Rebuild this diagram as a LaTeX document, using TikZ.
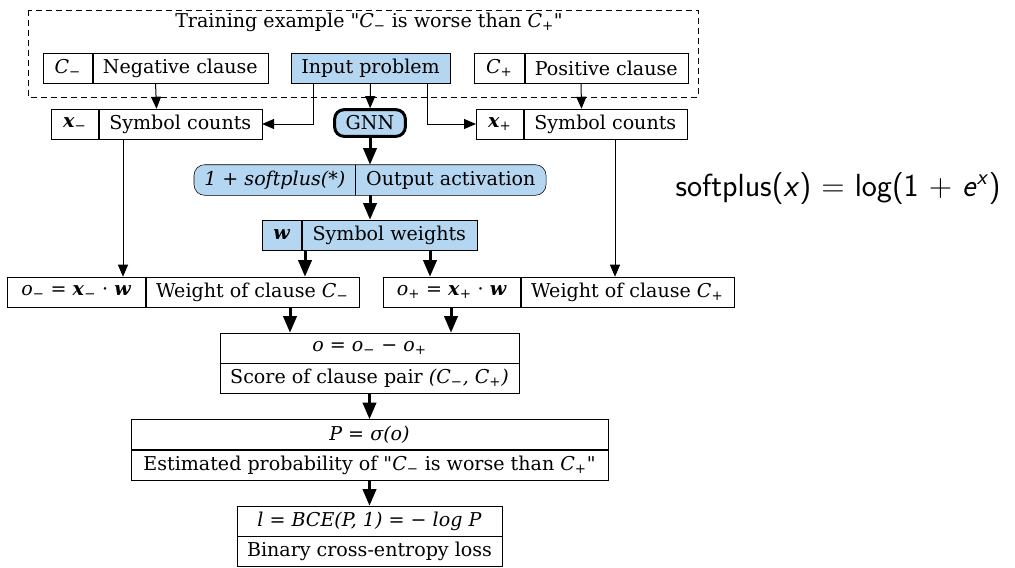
\documentclass[tikz,border=0pt]{standalone}
\usepackage{fontspec}
\setmainfont{DejaVu Serif}[Ligatures=TeXOff]
\usetikzlibrary{positioning,calc,arrows.meta,backgrounds}
\definecolor{gvblue}{HTML}{B4D6F1}
\newcommand{\Cneg}{\textit{C}\textsubscript{−}}
\newcommand{\Cpos}{\textit{C}\textsubscript{+}}
\newcommand{\bx}{\textbf{\textit{x}}}
\newcommand{\bw}{\textbf{\textit{w}}}

\begin{document}
\begin{tikzpicture}[x=0.75pt, y=-0.75pt, font=\fontsize{14.3}{16}\selectfont,
  cell/.style={draw, inner sep=0pt, minimum height=22.5pt, minimum width=#1*0.75pt},
  half/.style={inner sep=0pt, minimum height=22.5pt, minimum width=#1*0.75pt},
  gnnbox/.style={draw, line width=2.25pt, rounded corners=7pt, fill=gvblue, inner sep=0pt,
    minimum width=53pt, minimum height=20pt},
  thin/.style={-{Triangle[length=9pt,width=7.5pt]}, line width=0.75pt},
  bar/.style={-{Triangle[length=12.5pt,width=10pt]}, line width=2.25pt}]
\useasboundingbox (0,0) rectangle (1015,568);
% training example cluster
\draw[dash pattern=on 4.5pt off 3pt] (28,10) rectangle (698,97);
\node (title) at (369,22) {Training example "\Cneg{} is worse than \Cpos"};
\node[cell=49, anchor=west] (negL) at (43,68) {\Cneg};
\node[cell=175, right=0pt of negL] (neg) {Negative clause};
\node[cell=159, fill=gvblue] (inp) at (370.5,68) {Input problem};
\node[cell=50, anchor=west] (posL) at (474,68) {\Cpos};
\node[cell=163, right=0pt of posL] (pos) {Positive clause};
% symbol counts and GNN
\node[cell=47, anchor=west] (xmL) at (51,124) {\bx\textsubscript{−}};
\node[cell=163, right=0pt of xmL] (xm) {Symbol counts};
\node[gnnbox] (gnn) at (370,123) {GNN};
\node[cell=47, anchor=west] (xpL) at (476,124) {\bx\textsubscript{+}};
\node[cell=163, right=0pt of xpL] (xp) {Symbol counts};
\node[half=161, anchor=west] (actL) at (194,180) {\textit{1 + softplus(*)}};
\node[half=190, right=0pt of actL] (act) {Output activation};
\begin{scope}[on background layer]
\draw[fill=gvblue, rounded corners=8pt] (actL.north west) rectangle (act.south east);
\end{scope}
\draw (act.north west) -- (act.south west);
\node[cell=39, fill=gvblue, anchor=west] (wtsL) at (262,235) {\bw};
\node[cell=175, fill=gvblue, right=0pt of wtsL] (wts) {Symbol weights};
% clause weights
\node[cell=138, anchor=west] (omL) at (7,292) {\textit{o}\textsubscript{−} = \bx\textsubscript{−} · \bw};
\node[cell=213, right=0pt of omL] (om) {Weight of clause \Cneg};
\node[cell=137, anchor=west] (opL) at (383,292) {\textit{o}\textsubscript{+} = \bx\textsubscript{+} · \bw};
\node[cell=213, right=0pt of opL] (op) {Weight of clause \Cpos};
% score, probability, loss
\node[cell=299] (scoreT) at (369.5,348) {\textit{o = o\textsubscript{−} − o\textsubscript{+}}};
\node[cell=299, below=0pt of scoreT] (score) {Score of clause pair \textit{(\Cneg, \Cpos)}};
\node[cell=477] (probT) at (369.5,434.5) {\textit{P = σ(o)}};
\node[cell=477, below=0pt of probT] (prob) {Estimated probability of "\Cneg{} is worse than \Cpos"};
\node[cell=265] (lossT) at (369.5,521) {\textit{l = BCE(P, 1) = − log P}};
\node[cell=265, below=0pt of lossT] (loss) {Binary cross-entropy loss};
\node (sp) at (838,189) {\sffamily\fontsize{24}{28}\selectfont softplus(\textit{x}) = log(1 + \textit{e}\textsuperscript{\textit{x}})};
% connectors
\draw[thin] ($(negL.south west)!.5!(neg.south east)$) -- ($(xmL.north west)!.5!(xm.north east)$);
\draw[thin] ($(inp.south)+(-57.5,0)$) |- (xm.east);
\draw[thin] (inp) -- (gnn);
\draw[thin] ($(inp.south)+(56.5,0)$) |- (xpL.west);
\draw[thin] ($(posL.south west)!.5!(pos.south east)$) -- ($(xpL.north west)!.5!(xp.north east)$);
\draw[bar] (gnn) -- (gnn |- act.north);
\draw[bar] (gnn |- act.south) -- (gnn |- wts.north);
\draw[bar] ($(wtsL.south west)+(43,0)$) -- ($(wtsL.south west |- om.north)+(43,0)$);
\draw[bar] ($(wtsL.south west)+(168,0)$) -- ($(wtsL.south west |- op.north)+(168,0)$);
\draw[thin] ($(xmL.south west)+(72,0)$) -- ($(xmL.south west |- om.north)+(72,0)$);
\draw[thin] ($(xpL.south west)+(139,0)$) -- ($(xpL.south west |- op.north)+(139,0)$);
\draw[bar] ($(omL.south west)+(283,0)$) -- ($(omL.south west |- scoreT.north)+(283,0)$);
\draw[bar] ($(opL.south west)+(68,0)$) -- ($(opL.south west |- scoreT.north)+(68,0)$);
\draw[bar] (score) -- (probT);
\draw[bar] (prob) -- (lossT);
\end{tikzpicture}
\end{document}
